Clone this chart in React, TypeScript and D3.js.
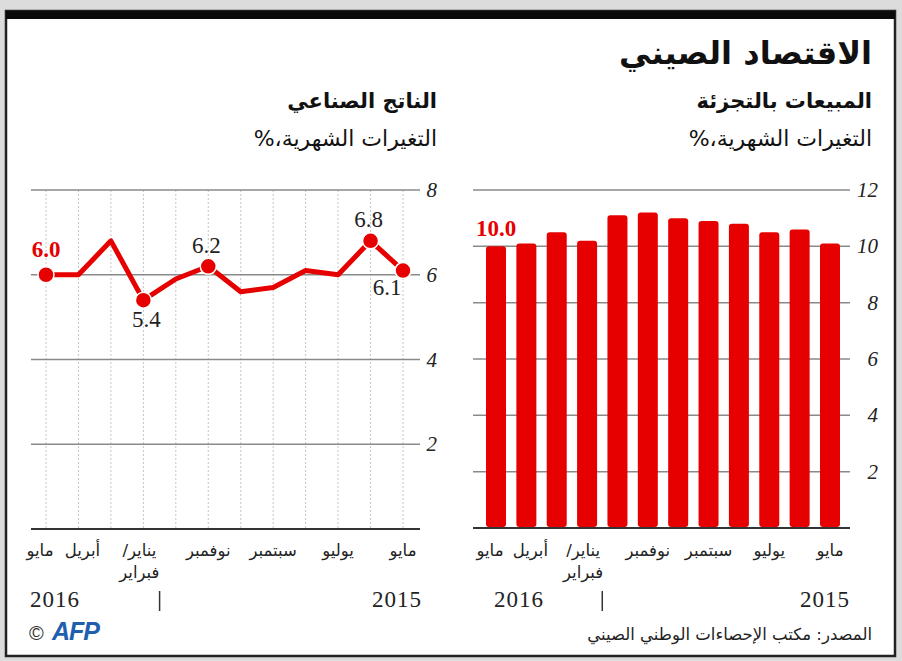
import React from "react";
import * as d3 from "d3";

// ---- data (index 0 = May 2015 on the right, index 11 = May 2016 on the left)
const monthLabels = ["مايو", "", "يوليو", "", "سبتمبر", "", "نوفمبر", "", "يناير/", "", "أبريل", "مايو"];
const monthLabels2 = ["", "", "", "", "", "", "", "", "فبراير", "", "", ""];
const industrial = [6.1, 6.8, 6.0, 6.1, 5.7, 5.6, 6.2, 5.9, 5.4, 6.8, 6.0, 6.0];
const retail = [10.1, 10.6, 10.5, 10.8, 10.9, 11.0, 11.2, 11.1, 10.2, 10.5, 10.1, 10.0];
const industrialTicks = [2, 4, 6, 8];
const retailTicks = [2, 4, 6, 8, 10, 12];
const years = ["2015", "2016"];

const title = "الاقتصاد الصيني";
const leftTitle = "الناتج الصناعي";
const rightTitle = "المبيعات بالتجزئة";
const subTitle = "التغيرات الشهرية،%";
const source = "المصدر: مكتب الإحصاءات الوطني الصيني";

// annotated points on the line chart
const lineNotes = [
  { i: 0, text: "6.1", dx: -16, dy: 24, red: false },
  { i: 1, text: "6.8", dx: -2, dy: -14, red: false },
  { i: 6, text: "6.2", dx: -2, dy: -13, red: false },
  { i: 8, text: "5.4", dx: 3, dy: 27, red: false },
  { i: 11, text: "6.0", dx: 0, dy: -18, red: true },
];

// horizontal nudges for month labels (layout only)
const labelShift = [0, 0, 0, 0, 0, 0, 0, 0, -4, 0, 4, -6];

const RED = "#e60000";
const RLM = "\u200F";
const ar = (s: string) => RLM + s + RLM;
const ARFONT = "'DejaVu Sans', 'Noto Sans', sans-serif";
const SERIF = "'Liberation Serif', 'DejaVu Serif', serif";

export default function App() {
  const idx = d3.range(12);

  // left panel scales
  const xL = d3.scalePoint<number>().domain(idx).range([403, 46]);
  const yL = d3.scaleLinear().domain([0, 8]).range([529, 190]);
  const line = d3
    .line<number>()
    .x((_, i) => xL(i)!)
    .y((d) => yL(d));

  // right panel scales
  const xR = d3.scalePoint<number>().domain(idx).range([830, 496]);
  const yR = d3.scaleLinear().domain([0, 12]).range([528, 190]);
  const barW = 20;

  const labelY = 556;
  const label2Y = 578;
  const yearY = 607;

  const axisLabels = (x: d3.ScalePoint<number>) => (
    <g fontFamily={ARFONT} fontSize={16.5} fill="#222" textAnchor="middle">
      {idx.map((i) =>
        monthLabels[i] ? (
          <text key={"a" + i} x={x(i)! + labelShift[i]} y={labelY}>
            {ar(monthLabels[i])}
          </text>
        ) : null
      )}
      {idx.map((i) =>
        monthLabels2[i] ? (
          <text key={"b" + i} x={x(i)! + labelShift[i]} y={label2Y}>
            {ar(monthLabels2[i])}
          </text>
        ) : null
      )}
    </g>
  );

  const yearMarks = (x: d3.ScalePoint<number>, left: number, right: number) => (
    <g fontFamily={SERIF} fontSize={23} fill="#222" letterSpacing={1}>
      <text x={right} y={yearY} textAnchor="end">
        {years[0]}
      </text>
      <text x={left} y={yearY} textAnchor="start">
        {years[1]}
      </text>
      <line
        x1={(x(7)! + x(8)!) / 2}
        x2={(x(7)! + x(8)!) / 2}
        y1={591}
        y2={611}
        stroke="#333"
        strokeWidth={1.5}
      />
    </g>
  );

  return (
    <svg
      width={902}
      height={661}
      style={{ position: "fixed", left: 0, top: 0, display: "block" }}
    >
      <rect x={0} y={0} width={902} height={661} fill="#dcdcdc" />
      <rect x={6} y={11} width={889} height={645} fill="#fff" stroke="#222" strokeWidth={2.5} />
      <rect x={6} y={11} width={889} height={8} fill="#0a0a0a" />

      {/* titles */}
      <g fontFamily={ARFONT} fill="#111" textAnchor="end">
        <text x={872} y={64} fontSize={32} fontWeight="bold">
          {ar(title)}
        </text>
        <text x={872} y={108} fontSize={21} fontWeight="bold">
          {ar(rightTitle)}
        </text>
        <text x={872} y={146} fontSize={22}>
          {ar(subTitle)}
        </text>
        <text x={437} y={108} fontSize={21} fontWeight="bold">
          {ar(leftTitle)}
        </text>
        <text x={437} y={146} fontSize={22}>
          {ar(subTitle)}
        </text>
      </g>

      {/* ---------- left panel: line chart ---------- */}
      <g>
        {idx.map((i) => (
          <line
            key={i}
            x1={xL(i)}
            x2={xL(i)}
            y1={yL(8)}
            y2={yL(0)}
            stroke="#c4c4c4"
            strokeWidth={1}
            strokeDasharray="2,2"
          />
        ))}
        {industrialTicks.map((t) => (
          <g key={t}>
            <line x1={31} x2={420} y1={yL(t)} y2={yL(t)} stroke="#8a8a8a" strokeWidth={1.5} />
            <text
              x={437}
              y={yL(t) + 7}
              textAnchor="end"
              fontFamily={SERIF}
              fontStyle="italic"
              fontSize={21}
              fill="#222"
            >
              {t}
            </text>
          </g>
        ))}
        <line x1={31} x2={420} y1={yL(0)} y2={yL(0)} stroke="#333" strokeWidth={2} />
        <path
          d={line(industrial) || ""}
          fill="none"
          stroke={RED}
          strokeWidth={5}
          strokeLinejoin="round"
          strokeLinecap="round"
        />
        {lineNotes.map((n) => (
          <circle
            key={n.i}
            cx={xL(n.i)}
            cy={yL(industrial[n.i])}
            r={8}
            fill={RED}
            stroke="#fff"
            strokeWidth={1.5}
          />
        ))}
        {lineNotes.map((n) => (
          <text
            key={"t" + n.i}
            x={xL(n.i)! + n.dx}
            y={yL(industrial[n.i]) + n.dy}
            textAnchor="middle"
            fontFamily={SERIF}
            fontSize={23}
            fontWeight={n.red ? "bold" : "normal"}
            fill={n.red ? RED : "#222"}
          >
            {n.text}
          </text>
        ))}
        {axisLabels(xL)}
        {yearMarks(xL, 30, 422)}
      </g>

      {/* ---------- right panel: bar chart ---------- */}
      <g>
        {retailTicks.map((t) => (
          <g key={t}>
            <line x1={473} x2={850} y1={yR(t)} y2={yR(t)} stroke="#8a8a8a" strokeWidth={1.5} />
            <text
              x={878}
              y={yR(t) + 7}
              textAnchor="end"
              fontFamily={SERIF}
              fontStyle="italic"
              fontSize={21}
              fill="#222"
            >
              {t}
            </text>
          </g>
        ))}
        {retail.map((v, i) => (
          <rect
            key={i}
            x={xR(i)! - barW / 2}
            y={yR(v)}
            width={barW}
            height={yR(0) - yR(v) - 1}
            rx={3}
            fill={RED}
          />
        ))}
        <line x1={473} x2={850} y1={yR(0)} y2={yR(0)} stroke="#333" strokeWidth={2} />
        <text
          x={xR(11)}
          y={yR(retail[11]) - 10}
          textAnchor="middle"
          fontFamily={SERIF}
          fontSize={23}
          fontWeight="bold"
          fill={RED}
        >
          {retail[11].toFixed(1)}
        </text>
        {axisLabels(xR)}
        {yearMarks(xR, 494, 850)}
      </g>

      {/* footer */}
      <text x={872} y={640} textAnchor="end" fontFamily={ARFONT} fontSize={16.5} fill="#222">
        {ar(source)}
      </text>
      <text x={29} y={640} fontFamily="'Liberation Sans', sans-serif" fontSize={20} fill="#333">
        ©
      </text>
      <text
        x={52}
        y={640}
        fontFamily="'Liberation Sans', sans-serif"
        fontSize={25}
        fontWeight="bold"
        fontStyle="italic"
        fill="#1f5fae"
        letterSpacing={-1}
      >
        AFP
      </text>
    </svg>
  );
}
